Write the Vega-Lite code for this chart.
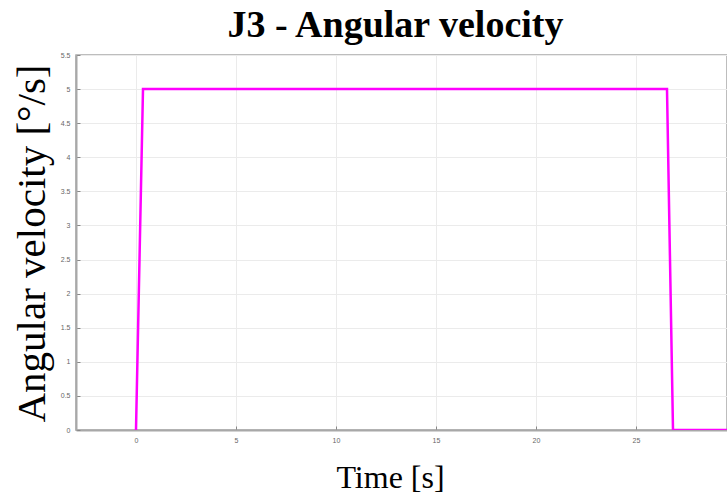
{
  "$schema": "https://vega.github.io/schema/vega-lite/v6.json",
  "autosize": "none",
  "width": 651,
  "height": 375,
  "padding": {"left": 76, "top": 55, "right": 0, "bottom": 67},
  "background": "white",
  "title": {
    "text": "J3 - Angular velocity",
    "font": "Liberation Serif",
    "fontSize": 38,
    "fontWeight": "bold",
    "color": "black",
    "anchor": "middle",
    "baseline": "alphabetic",
    "offset": 17,
    "dx": -6,
    "dy": 41
  },
  "config": {
    "view": {"stroke": "#a8a8a8", "strokeWidth": 1.5}
  },
  "data": {
    "values": [
      {"t": 0, "v": 0},
      {"t": 0.35, "v": 5},
      {"t": 26.55, "v": 5},
      {"t": 26.85, "v": 0},
      {"t": 30, "v": 0}
    ]
  },
  "mark": {"type": "line", "color": "#ff00ff", "strokeWidth": 2.5, "clip": true},
  "encoding": {
    "x": {
      "field": "t",
      "type": "quantitative",
      "scale": {"domain": [-3, 29.55], "nice": false, "zero": false},
      "axis": {
        "title": "Time [s]",
        "titleFont": "Liberation Serif",
        "titleFontSize": 32,
        "titleFontWeight": "normal",
        "titleColor": "black",
        "titleX": 314,
        "titleY": 57,
        "titleBaseline": "alphabetic",
        "values": [0, 5, 10, 15, 20, 25],
        "format": "~g",
        "grid": true,
        "gridColor": "#ebebeb",
        "domainColor": "#a8a8a8",
        "domainWidth": 2,
        "tickColor": "#888888",
        "tickSize": -4,
        "labelFont": "Liberation Sans",
        "labelFontSize": 7,
        "labelColor": "#666666",
        "labelPadding": 10
      }
    },
    "y": {
      "field": "v",
      "type": "quantitative",
      "scale": {"domain": [0, 5.5], "nice": false},
      "axis": {
        "title": "Angular velocity [°/s]",
        "titleFont": "Liberation Serif",
        "titleFontSize": 41,
        "titleFontWeight": "normal",
        "titleColor": "black",
        "titleAngle": -90,
        "titleX": -32,
        "titleY": 188,
        "titleAlign": "center",
        "titleBaseline": "alphabetic",
        "values": [0, 0.5, 1, 1.5, 2, 2.5, 3, 3.5, 4, 4.5, 5, 5.5],
        "format": "~g",
        "grid": true,
        "gridColor": "#ebebeb",
        "domainColor": "#a8a8a8",
        "domainWidth": 2,
        "tickColor": "#888888",
        "tickSize": -4,
        "labelFont": "Liberation Sans",
        "labelFontSize": 7,
        "labelColor": "#666666",
        "labelPadding": 10
      }
    }
  }
}
